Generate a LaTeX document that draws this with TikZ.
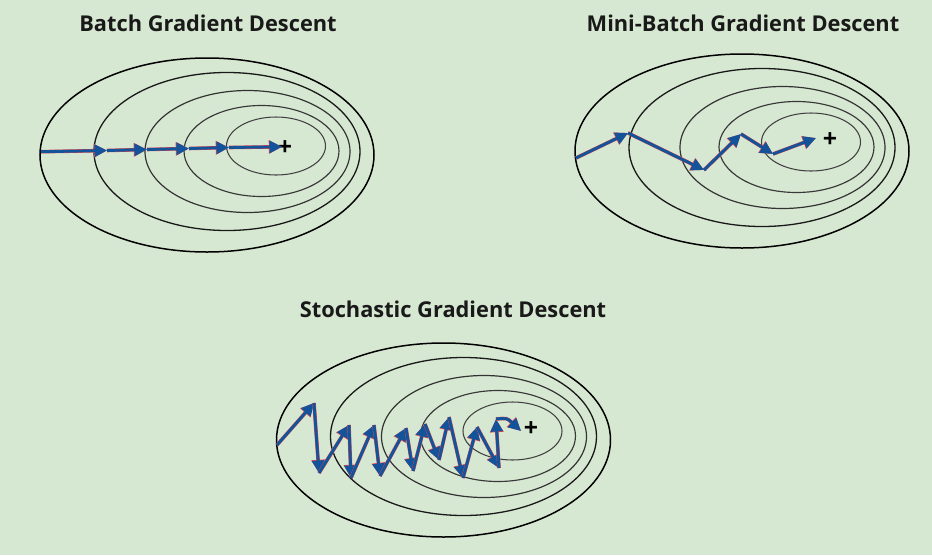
\documentclass[tikz,border=0pt]{standalone}
\usepackage{fontspec}
\setmainfont{Open Sans}
\usetikzlibrary{arrows.meta}
\definecolor{bg}{HTML}{D7E8D2}
\definecolor{stepblue}{HTML}{12539A}
\definecolor{stepred}{HTML}{E8484F}
\tikzset{
  title/.style={font=\bfseries\fontsize{21.8}{24}\selectfont, text=black!90, inner sep=0pt},
  c1/.style={draw=black, line width=1.5pt},
  c2/.style={draw=black!90, line width=1.3pt},
  c3/.style={draw=black!80, line width=1.2pt},
  c4/.style={draw=black!78, line width=1.15pt},
  c5/.style={draw=black!75, line width=1.05pt},
  stepline/.style={draw=stepblue, line width=2.9pt, -{Triangle[length=12.5pt 0,width=12pt 0]},
    preaction={draw=stepred, line width=3.6pt, -{Triangle[length=13.2pt 0,width=12.8pt 0]}}},
  minpt/.style={font=\bfseries\fontsize{25}{25}\selectfont, inner sep=0pt, text=black}
}
\newcommand{\contours}[2]{%
  \draw[c1] (#1,#2) ellipse [x radius=167, y radius=97];
  \draw[c2] (#1+20,#2-3.5) ellipse [x radius=133, y radius=79];
  \draw[c3] (#1+40.5,#2-3.5) ellipse [x radius=102.5, y radius=61];
  \draw[c4] (#1+54.5,#2-4) ellipse [x radius=77.5, y radius=45.5];
  \draw[c5] (#1+69,#2-9) ellipse [x radius=49.5, y radius=29];
}
\begin{document}
\begin{tikzpicture}[x=1pt,y=-1pt]
\fill[bg] (0,0) rectangle (932,555);
\useasboundingbox (0,0) rectangle (932,555);

% titles
\node[title] (t1) at (208,23) {Batch Gradient Descent};
\node[title] (t2) at (743,23) {Mini-Batch Gradient Descent};
\node[title] (t3) at (453,309) {Stochastic Gradient Descent};

% contours
\contours{207}{155}
\contours{742}{151}
\contours{443.5}{440}

% batch
\coordinate (b0) at (41,151.7);
\coordinate (b1) at (107,150.5);
\coordinate (b2) at (147,149.5);
\coordinate (b3) at (189,148.5);
\coordinate (b4) at (229,147.5);
\coordinate (b5) at (282,146.8);
\node[minpt] (m1) at (285,148) {+};
\foreach \a/\b in {b0/b1,b1/b2,b2/b3,b3/b4,b4/b5}
  \draw[stepline] (\a) -- (\b);

% mini-batch
\coordinate (n0) at (576,158);
\coordinate (n1) at (628,133);
\coordinate (n2) at (704,170);
\coordinate (n3) at (741,134);
\coordinate (n4) at (773,154);
\coordinate (n5) at (816,138);
\node[minpt] (m2) at (830,140) {+};
\foreach \a/\b in {n0/n1,n1/n2,n2/n3,n3/n4,n4/n5}
  \draw[stepline] (\a) -- (\b);

% stochastic
\coordinate (s0) at (277,445);
\coordinate (s1) at (314,403);
\coordinate (s2) at (319,473);
\coordinate (s3) at (349,425);
\coordinate (s4) at (351,478);
\coordinate (s5) at (374,425);
\coordinate (s6) at (380,476);
\coordinate (s7) at (406,428);
\coordinate (s8) at (413,471);
\coordinate (s9) at (425,424);
\coordinate (s10) at (439,460);
\coordinate (s11) at (449,417);
\coordinate (s12) at (463,478);
\coordinate (s13) at (477,427);
\coordinate (s14) at (499,468);
\coordinate (s15) at (496,419);
\coordinate (s16) at (521,431);
\node[minpt] (m3) at (531,429) {+};
\foreach \a/\b in {s0/s1,s1/s2,s2/s3,s3/s4,s4/s5,s5/s6,s6/s7,s7/s8,s8/s9,s9/s10,s10/s11,s11/s12,s12/s13,s13/s14,s14/s15}
  \draw[stepline] (\a) -- (\b);
\draw[stepline] (s15) .. controls (507,418) .. (s16);
\end{tikzpicture}
\end{document}
